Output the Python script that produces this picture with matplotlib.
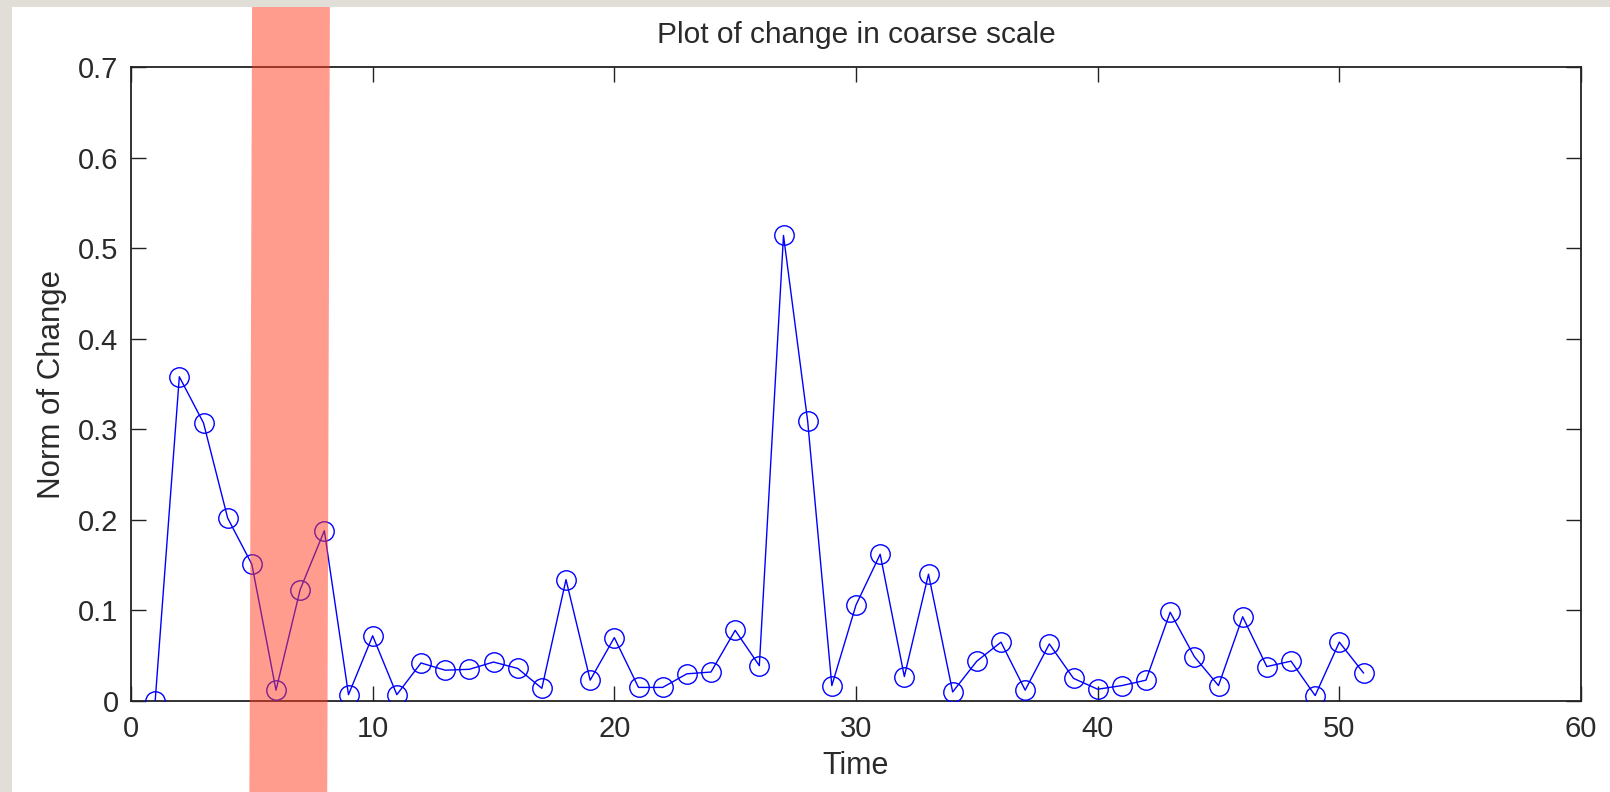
import matplotlib
matplotlib.use("Agg")
import matplotlib.pyplot as plt
from matplotlib.patches import Rectangle, Polygon
from matplotlib.transforms import blended_transform_factory

# ---- data ----
time = list(range(1, 52))
norm_change = [0.000, 0.358, 0.307, 0.202, 0.151, 0.012, 0.123, 0.188, 0.007, 0.072,
               0.007, 0.042, 0.034, 0.035, 0.043, 0.036, 0.014, 0.134, 0.023, 0.070,
               0.015, 0.015, 0.030, 0.032, 0.078, 0.039, 0.514, 0.309, 0.017, 0.106,
               0.162, 0.027, 0.140, 0.010, 0.044, 0.065, 0.012, 0.063, 0.025, 0.013,
               0.017, 0.023, 0.098, 0.049, 0.017, 0.093, 0.038, 0.044, 0.006, 0.065,
               0.031]
x_ticks = [0, 10, 20, 30, 40, 50, 60]
y_ticks = [0, 0.1, 0.2, 0.3, 0.4, 0.5, 0.6, 0.7]
highlight_start, highlight_end = 4.95, 8.17

plt.rcParams['font.family'] = ['Liberation Sans', 'DejaVu Sans']

W, H = 1610, 792
fig = plt.figure(figsize=(W / 100, H / 100), dpi=100)
fig.patch.set_facecolor('#e1ded8')
# white figure canvas
bg = Rectangle((12 / W, 0), 1, (H - 7) / H, transform=fig.transFigure,
               facecolor='white', edgecolor='none', zorder=-10)
fig.add_artist(bg)

ax = fig.add_axes([131 / W, (H - 701) / H, (1581 - 131) / W, (701 - 67) / H])
ax.set_zorder(1)
ax.set_facecolor('white')

ax.plot(time, norm_change, color='#0000ff', linewidth=1.0, marker='o',
        markersize=14, markerfacecolor='none', markeredgecolor='#0000ff',
        markeredgewidth=1.0, zorder=3)

ax.set_xlim(0, 60)
ax.set_ylim(0, 0.7)
ax.set_xticks(x_ticks)
ax.set_yticks(y_ticks)
ax.set_xticklabels([str(v) for v in x_ticks])
ax.set_yticklabels(['0'] + ['%.1f' % v for v in y_ticks[1:]])
txt_color = '#2a2a2a'
ax.tick_params(direction='in', length=10.5, width=1.0, colors='#222222',
               labelsize=21, top=True, right=True, labelcolor=txt_color)
ax.tick_params(axis='y', pad=9)
ax.tick_params(axis='x', pad=10)
for sp in ax.spines.values():
    sp.set_linewidth(1.3)
    sp.set_color('#222222')

ax.set_title('Plot of change in coarse scale', fontsize=21.5, color=txt_color, pad=17)
ax.set_xlabel('Time', fontsize=22, color=txt_color, labelpad=6)
ax.set_ylabel('Norm of Change', fontsize=22.5, color=txt_color, labelpad=8)

# highlighted band (semi-transparent, above the curve, spanning the whole canvas height)
trans = blended_transform_factory(ax.transData, fig.transFigure)
top = (H - 7) / H
band = Polygon([(highlight_start - 0.05, 0), (highlight_end - 0.05, 0),
                (highlight_end + 0.06, top), (highlight_start + 0.06, top)],
               closed=True, transform=trans, facecolor='#ff3a1f', alpha=0.5,
               edgecolor='none', clip_on=False, zorder=5)
ax.add_patch(band)

fig.savefig('out.png', dpi=100, facecolor=fig.get_facecolor())
